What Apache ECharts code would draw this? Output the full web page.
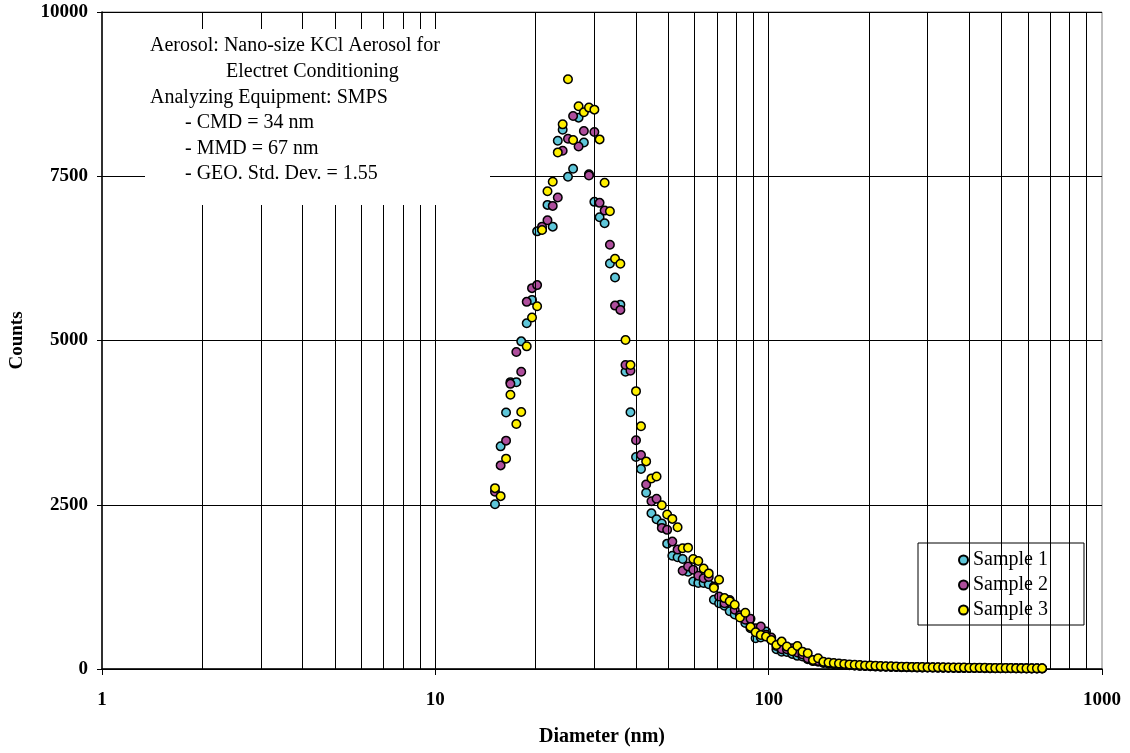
<!DOCTYPE html>
<html>
<head>
<meta charset="utf-8">
<script src="https://cdn.jsdelivr.net/npm/echarts@6/dist/echarts.min.js"></script>
<style>
html,body{margin:0;padding:0;background:#fff;}
#chart{width:1130px;height:753px;}
</style>
</head>
<body>
<div id="chart"></div>
<script>
// Diameter channels (nm)
const diameters = [15.1,15.7,16.3,16.8,17.5,18.1,18.8,19.5,20.2,20.9,
  21.7,22.5,23.3,24.1,25.0,25.9,26.9,27.9,28.9,30.0,
  31.1,32.2,33.4,34.6,35.9,37.2,38.5,40.0,41.4,42.9,
  44.5,46.1,47.8,49.6,51.4,53.3,55.2,57.3,59.4,61.5,
  63.8,66.1,68.5,71.0,73.7,76.4,79.1,82.0,85.1,88.2,
  91.4,94.7,98.2,101.8,105.5,109.4,113.4,117.6,121.9,126.3,
  131.0,135.8,140.7,145.9,151.2,156.8,162.5,168.5,174.7,181.1,
  187.7,194.6,201.7,209.1,216.7,224.7,232.9,241.4,250.3,259.5,
  269.0,278.8,289.0,299.6,310.6,322.0,333.8,346.0,358.7,371.8,
  385.4,399.5,414.2,429.4,445.1,461.4,478.3,495.8,514.0,532.8,
  552.3,572.5,593.5,615.3,637.8,661.2];

const sample1 = [2508,3389,3904,4366,4366,4987,5263,5618,6661,6690,
  7064,6733,8041,8209,7492,7614,8392,8015,7530,7110,
  6875,6784,6173,5959,5546,4524,3908,3226,3043,2682,
  2371,2279,2214,1908,1725,1700,1675,1481,1333,1308,
  1308,1290,1053,1000,962,880,830,799,700,620,
  468,480,570,450,300,264,260,230,200,190,
  150,120,110,90,80,74,68,62,57,52,
  48,45,41,38,36,34,31,30,28,27,
  25,24,23,22,21,20,19,18,17,17,
  16,15,15,14,13,13,12,12,11,11,
  10,10,9,9,8,8];

const sample2 = [2698,3099,3476,4340,4824,4524,5588,5797,5843,6733,
  6829,7049,7176,7888,8071,8417,7954,8188,7511,8173,
  7095,6977,6458,5531,5466,4626,4539,3481,3257,2809,
  2554,2591,2148,2118,1939,1817,1496,1562,1511,1420,
  1380,1400,1257,1104,1000,1050,901,820,750,763,
  620,646,520,480,350,300,300,316,250,220,
  163,130,120,100,88,80,72,66,60,55,
  50,46,43,40,38,35,33,31,29,28,
  26,25,24,23,22,21,20,19,18,17,
  16,16,15,14,14,13,13,12,12,11,
  11,10,10,9,9,8];

const sample3 = [2753,2631,3202,4173,3730,3913,4911,5349,5522,6682,
  7272,7415,7863,8290,8977,8051,8565,8473,8545,8514,
  8061,7400,6966,6244,6168,5008,4626,4229,3695,3160,
  2901,2931,2493,2351,2285,2157,1837,1847,1675,1644,
  1531,1455,1232,1359,1079,1030,977,783,855,641,
  560,519,493,443,366,417,341,270,351,264,
  239,137,163,111,100,92,85,78,70,66,
  60,55,52,48,45,42,40,38,36,34,
  32,31,30,28,27,26,25,24,23,22,
  21,20,19,18,18,17,16,15,15,14,
  13,13,12,12,11,10];

const seriesNames = ['Sample 1','Sample 2','Sample 3'];
const seriesColors = ['#5EC6D9','#AE4E9C','#FFF000'];
const yTicks = [0,2500,5000,7500,10000];
// vertical grid lines (log minor + major)
const gridX = [2,3,4,5,6,7,8,9,10,20,30,40,50,60,70,80,90,100,200,300,400,500,600,700,800,900];

const noteLines = [
  'Aerosol: Nano-size KCl Aerosol for',
  'Electret Conditioning',
  'Analyzing Equipment: SMPS',
  '- CMD = 34 nm',
  '- MMD = 67 nm',
  '- GEO. Std. Dev. = 1.55'
];

const FONT = '"Liberation Serif","Times New Roman",serif';
const chart = echarts.init(document.getElementById('chart'), null, {renderer:'canvas'});

function pairs(vals){ return diameters.map((d,i)=>[d, vals[i]]); }
const allSamples = [sample1, sample2, sample3];

const series = [{
  name: 'grid',
  type: 'scatter',
  data: [],
  silent: true,
  z: 1,
  markLine: {
    silent: true,
    symbol: ['none','none'],
    animation: false,
    label: {show:false},
    lineStyle: {color:'#000', width:1, type:'solid'},
    emphasis: {disabled:true},
    data: gridX.map(v => ({xAxis: v}))
  }
}];
allSamples.forEach((s, k) => {
  series.push({
    name: seriesNames[k],
    type: 'scatter',
    data: pairs(s),
    symbol: 'circle',
    symbolSize: 8.5,
    z: 3 + k,
    itemStyle: {color: seriesColors[k], borderColor: '#000', borderWidth: 1.5, opacity: 1},
    emphasis: {disabled: true},
    animation: false
  });
});

const noteX = [150, 226, 150, 185, 185, 185];
const noteY = [46, 72, 97.5, 123, 148.5, 174];

const graphics = [{
  type: 'rect',
  shape: {x: 145, y: 29, width: 345, height: 176},
  style: {fill: '#fff'},
  z: 100
}];
noteLines.forEach((t, i) => {
  graphics.push({
    type: 'text',
    x: noteX[i], y: noteY[i],
    z: 101,
    style: {text: t, font: '20px ' + FONT, fill: '#000', textVerticalAlign: 'middle', textAlign: 'left'}
  });
});

chart.setOption({
  animation: false,
  backgroundColor: '#fff',
  grid: {left: 102, right: 28, top: 12, bottom: 84, show: true, borderColor: '#808080', borderWidth: 1, backgroundColor: 'transparent'},
  xAxis: {
    type: 'log', logBase: 10, min: 1, max: 1000,
    name: 'Diameter (nm)', nameLocation: 'middle', nameGap: 58,
    nameTextStyle: {fontFamily: FONT, fontWeight: 'bold', fontSize: 20, color: '#000'},
    axisLine: {show: true, lineStyle: {color: '#000', width: 1.5}},
    axisTick: {show: true, length: 6, lineStyle: {color: '#000'}},
    axisLabel: {fontFamily: FONT, fontWeight: 'bold', fontSize: 19, color: '#000', margin: 22, formatter: v => String(v)},
    splitLine: {show: false},
    minorTick: {show: false}
  },
  yAxis: {
    type: 'value', min: yTicks[0], max: yTicks[yTicks.length-1], interval: 2500,
    name: 'Counts', nameLocation: 'middle', nameGap: 75,
    nameTextStyle: {fontFamily: FONT, fontWeight: 'bold', fontSize: 19, color: '#000'},
    axisLine: {show: true, lineStyle: {color: '#000', width: 1.5}},
    axisTick: {show: true, length: 5, lineStyle: {color: '#000'}},
    axisLabel: {fontFamily: FONT, fontWeight: 'bold', fontSize: 19, color: '#000', margin: 14, formatter: v => String(v)},
    splitLine: {show: true, lineStyle: {color: '#000', width: 1}}
  },
  legend: {
    data: seriesNames,
    orient: 'vertical',
    left: 918, top: 543,
    padding: [7, 36, 5, 40],
    itemGap: 5,
    itemWidth: 9, itemHeight: 9,
    icon: 'circle',
    backgroundColor: '#fff',
    borderColor: '#000', borderWidth: 1, borderRadius: 0,
    textStyle: {fontFamily: FONT, fontSize: 20, color: '#000', lineHeight: 20},
    selectedMode: false
  },
  graphic: graphics,
  series: series
});
</script>
</body>
</html>
